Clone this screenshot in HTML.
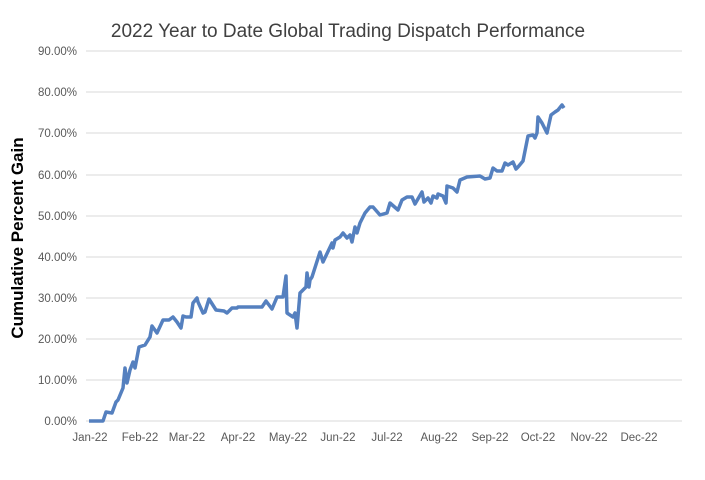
<!DOCTYPE html>
<html><head><meta charset="utf-8"><style>
body{margin:0;background:#fff;}
svg{display:block;font-family:"Liberation Sans",sans-serif;}
</style></head><body>
<svg width="705" height="480" viewBox="0 0 705 480">
<text x="348" y="37" text-anchor="middle" font-size="19" fill="#404040">2022 Year to Date Global Trading Dispatch Performance</text>
<g stroke="#d9d9d9" stroke-width="1">
<line x1="86" x2="682" y1="51" y2="51"/><line x1="86" x2="682" y1="92" y2="92"/>
<line x1="86" x2="682" y1="133" y2="133"/><line x1="86" x2="682" y1="175" y2="175"/>
<line x1="86" x2="682" y1="216" y2="216"/><line x1="86" x2="682" y1="257" y2="257"/>
<line x1="86" x2="682" y1="298" y2="298"/><line x1="86" x2="682" y1="339" y2="339"/>
<line x1="86" x2="682" y1="380" y2="380"/><line x1="86" x2="682" y1="421" y2="421"/>
</g>
<g font-size="11.5" fill="#595959" text-anchor="end">
<text x="77" y="55">90.00%</text><text x="77" y="96">80.00%</text><text x="77" y="137">70.00%</text>
<text x="77" y="179">60.00%</text><text x="77" y="220">50.00%</text><text x="77" y="261">40.00%</text>
<text x="77" y="302">30.00%</text><text x="77" y="343">20.00%</text><text x="77" y="384">10.00%</text>
<text x="77" y="425">0.00%</text>
</g>
<g font-size="11.5" fill="#595959" text-anchor="middle">
<text x="90" y="441">Jan-22</text><text x="140" y="441">Feb-22</text><text x="187" y="441">Mar-22</text>
<text x="238" y="441">Apr-22</text><text x="288" y="441">May-22</text><text x="338" y="441">Jun-22</text>
<text x="387" y="441">Jul-22</text><text x="439" y="441">Aug-22</text><text x="490" y="441">Sep-22</text>
<text x="538" y="441">Oct-22</text><text x="589" y="441">Nov-22</text><text x="639" y="441">Dec-22</text>
</g>
<text transform="translate(23,238) rotate(-90)" text-anchor="middle" font-size="17" font-weight="bold" fill="#000">Cumulative Percent Gain</text>
<polyline fill="none" stroke="#5580bf" stroke-width="3.5" stroke-linejoin="round" points="89,421 103,421 106,412 112,413 116,402 118,400 123,388 125,368 127,383 130,370 133,362 135,368 139,347 145,345 150,337 152,326 157,333 163,320 169,320 173,317 177,322 181,328 183,316 186,317 191,317 193,303 197,298 198,302 203,313 205,312 209,299 216,310 224,311 227,313 232,308 237,308 238,307 262,307 266,301 272,309 277,297 283,297 286,276 287,313 293,317 295,313 297,328 300,293 306,287 307,273 309,287 310,280 312,277 320,252 323,262 332,243 333,248 335,240 340,237 343,233 347,238 350,235 352,242 355,227 357,233 360,223 365,213 370,207 373,207 380,215 387,213 390,203 398,210 402,200 407,197 412,197 415,204 422,192 424,202 428,198 431,203 433,196 437,198 438,194 443,196 446,203 447,186 453,188 457,192 460,180 467,177 480,176 485,179 490,178 493,168 497,171 502,171 505,163 508,165 513,162 516,169 518,167 523,161 528,136 533,135 535,138 537,133 538,117 542,123 547,133 551,115 555,112 558,110 562,105 564,108"/>
</svg>
</body></html>
